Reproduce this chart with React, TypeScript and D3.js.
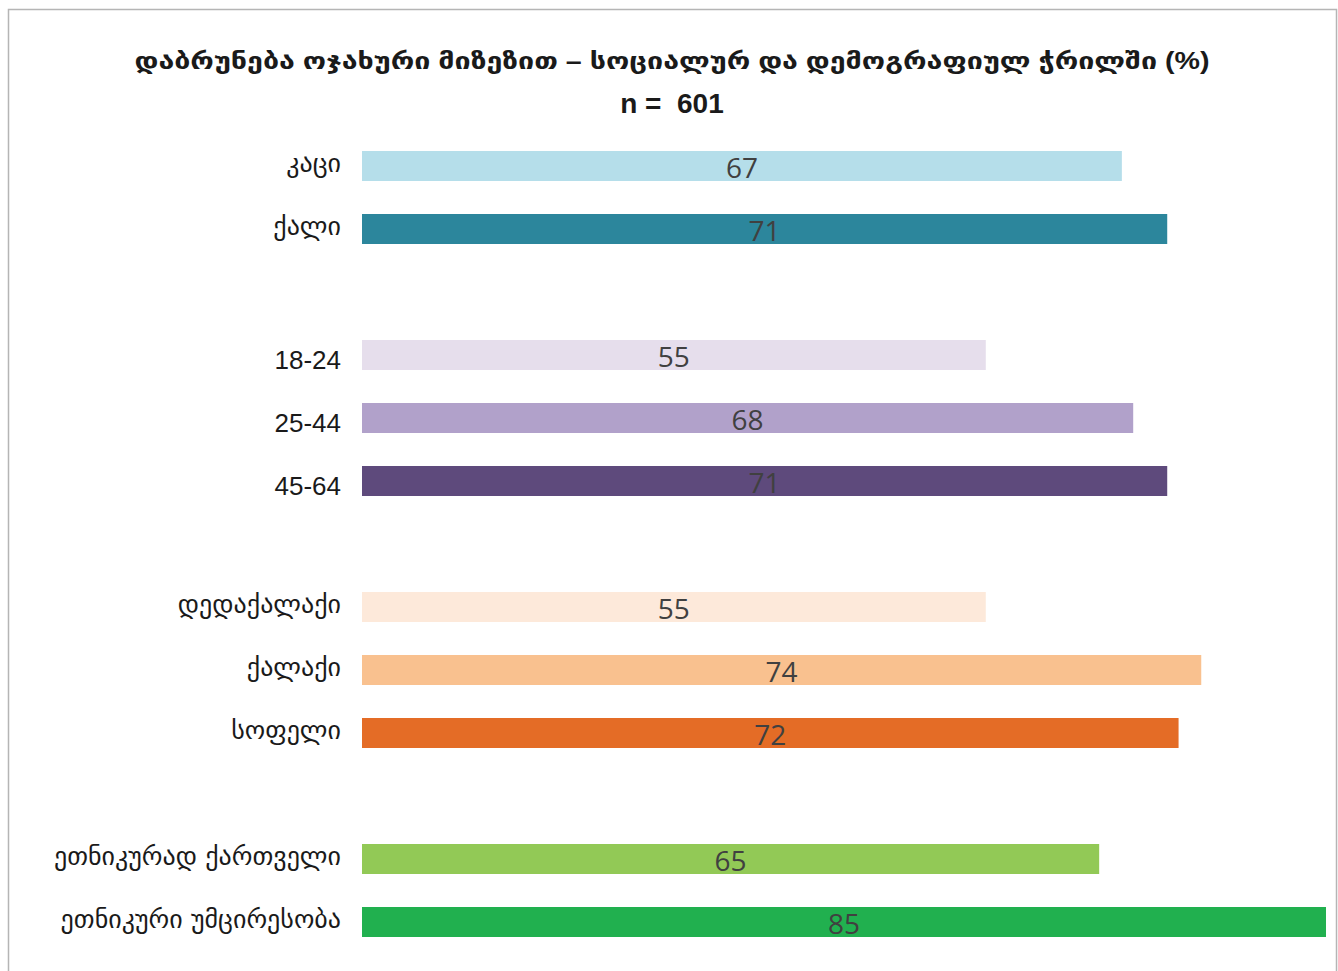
import React, { useEffect } from 'react';
import * as d3 from 'd3';

// rows of the chart, blank strings are spacer rows between groups
const categories = [
  'კაცი', 'ქალი', '',
  '18-24', '25-44', '45-64', '',
  'დედაქალაქი', 'ქალაქი', 'სოფელი', '',
  'ეთნიკურად ქართველი', 'ეთნიკური უმცირესობა',
];
const values = [67, 71, null, 55, 68, 71, null, 55, 74, 72, null, 65, 85];
const colors = [
  '#B5DEEA', '#2C869C', '',
  '#E6DEEC', '#B1A1CA', '#5E4A7C', '',
  '#FDE9DA', '#F9C18F', '#E46C26', '',
  '#92C956', '#21B04F',
];
const title = 'დაბრუნება ოჯახური მიზეზით – სოციალურ და დემოგრაფიულ ჭრილში (%)';
const subtitle = 'n =  601';

const W = 1338;
const H = 971;

const App: React.FC = () => {
  useEffect(() => {
    document.body.style.margin = '0';
  }, []);

  const x = d3.scaleLinear().domain([0, 85]).range([362, 1326]);
  const keys = categories.map((c, i) => `${i}`);
  const y = d3.scalePoint<string>().domain(keys).range([166, 922]);
  const barH = 30;

  return (
    <svg width={W} height={H} style={{ display: 'block', background: '#fff' }}>
      <rect x={8.5} y={9.5} width={1328} height={H + 10} fill="none" stroke="#b5b5b5" strokeWidth={1.5} />
      <text
        x={672}
        y={69}
        textAnchor="middle"
        fontFamily="'Liberation Sans Narrow', 'Liberation Sans', 'DejaVu Sans', sans-serif"
        fontWeight="bold"
        fontSize={23}
        fill="#1a1a1a"
        textLength={1075}
        lengthAdjust="spacingAndGlyphs"
      >
        {title}
      </text>
      <text
        x={672}
        y={113}
        textAnchor="middle"
        fontFamily="'Liberation Sans Narrow', 'Liberation Sans', sans-serif"
        fontWeight="bold"
        fontSize={28}
        fill="#1a1a1a"
        xmlSpace="preserve"
      >
        {subtitle}
      </text>
      {categories.map((c, i) => {
        const v = values[i];
        if (v == null) return null;
        const cy = y(keys[i]) as number;
        const isAge = /\d/.test(c);
        return (
          <g key={i}>
            <rect x={x(0)} y={cy - barH / 2} width={x(v) - x(0)} height={barH} fill={colors[i]} />
            <text
              x={341}
              y={cy + (isAge ? 14 : 6)}
              textAnchor="end"
              fontFamily={isAge ? "'Liberation Sans', Arial, sans-serif" : "'DejaVu Sans', sans-serif"}
              fontSize={isAge ? 26 : 26}
              fill="#1a1a1a"
            >
              {c}
            </text>
            <text
              x={(x(0) + x(v)) / 2}
              y={cy + 12}
              textAnchor="middle"
              fontFamily="'Open Sans', 'DejaVu Sans', sans-serif"
              fontSize={28}
              fill="#404040"
            >
              {v}
            </text>
          </g>
        );
      })}
    </svg>
  );
};

export default App;
